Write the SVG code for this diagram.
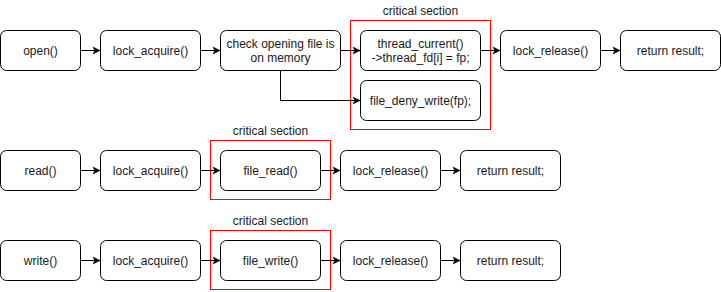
<svg xmlns="http://www.w3.org/2000/svg" width="721" height="292" viewBox="0 0 721 292">
  <style>
    .box { fill: #ffffff; stroke: #000000; stroke-width: 1; }
    .crit { fill: none; stroke: #ff0000; stroke-width: 1; }
    .lbl { font-family: "Liberation Sans", Arial, sans-serif; font-size: 12px; fill: #1a1a1a; text-anchor: middle; }
    .edge { fill: none; stroke: #000000; stroke-width: 1; marker-end: url(#arrow); }
  </style>
  <defs>
    <marker id="arrow" markerWidth="8" markerHeight="8" refX="7" refY="4" orient="auto" markerUnits="userSpaceOnUse">
      <path d="M0,0.5 L7,4 L0,7.5 L1.75,4 Z" fill="#000000" stroke="#000000" stroke-width="0.5"/>
    </marker>
  </defs>
  <rect width="721" height="292" fill="#ffffff"/>

  <!-- critical section frames -->
  <g id="critical-open">
    <rect class="crit" x="350.5" y="20.5" width="140" height="109"/>
    <text class="lbl" x="420.5" y="15">critical section</text>
  </g>
  <g id="critical-read">
    <rect class="crit" x="210.5" y="140.5" width="120" height="59"/>
    <text class="lbl" x="270.5" y="135">critical section</text>
  </g>
  <g id="critical-write">
    <rect class="crit" x="210.5" y="230.5" width="120" height="59"/>
    <text class="lbl" x="270.5" y="225">critical section</text>
  </g>

  <!-- open() flow -->
  <g id="open"><rect class="box" x="0.5" y="30.5" width="80" height="40" rx="6"/><text class="lbl" x="40.5" y="54.5">open()</text></g>
  <g id="open-lock-acquire"><rect class="box" x="100.5" y="30.5" width="100" height="40" rx="6"/><text class="lbl" x="150.5" y="54.5">lock_acquire()</text></g>
  <g id="check-memory"><rect class="box" x="220.5" y="30.5" width="120" height="40" rx="6"/><text class="lbl" x="280.5" y="47.5">check opening file is</text><text class="lbl" x="280.5" y="61.5">on memory</text></g>
  <g id="thread-current"><rect class="box" x="360.5" y="30.5" width="120" height="40" rx="6"/><text class="lbl" x="420.5" y="47.5">thread_current()</text><text class="lbl" x="420.5" y="61.5">-&gt;thread_fd[i] = fp;</text></g>
  <g id="file-deny-write"><rect class="box" x="360.5" y="80.5" width="120" height="40" rx="6"/><text class="lbl" x="420.5" y="104.5">file_deny_write(fp);</text></g>
  <g id="open-lock-release"><rect class="box" x="500.5" y="30.5" width="100" height="40" rx="6"/><text class="lbl" x="550.5" y="54.5">lock_release()</text></g>
  <g id="open-return"><rect class="box" x="620.5" y="30.5" width="100" height="40" rx="6"/><text class="lbl" x="670.5" y="54.5">return result;</text></g>

  <!-- read() flow -->
  <g id="read"><rect class="box" x="0.5" y="150.5" width="80" height="40" rx="6"/><text class="lbl" x="40.5" y="174.5">read()</text></g>
  <g id="read-lock-acquire"><rect class="box" x="100.5" y="150.5" width="100" height="40" rx="6"/><text class="lbl" x="150.5" y="174.5">lock_acquire()</text></g>
  <g id="file-read"><rect class="box" x="220.5" y="150.5" width="100" height="40" rx="6"/><text class="lbl" x="270.5" y="174.5">file_read()</text></g>
  <g id="read-lock-release"><rect class="box" x="340.5" y="150.5" width="100" height="40" rx="6"/><text class="lbl" x="390.5" y="174.5">lock_release()</text></g>
  <g id="read-return"><rect class="box" x="460.5" y="150.5" width="100" height="40" rx="6"/><text class="lbl" x="510.5" y="174.5">return result;</text></g>

  <!-- write() flow -->
  <g id="write"><rect class="box" x="0.5" y="240.5" width="80" height="40" rx="6"/><text class="lbl" x="40.5" y="264.5">write()</text></g>
  <g id="write-lock-acquire"><rect class="box" x="100.5" y="240.5" width="100" height="40" rx="6"/><text class="lbl" x="150.5" y="264.5">lock_acquire()</text></g>
  <g id="file-write"><rect class="box" x="220.5" y="240.5" width="100" height="40" rx="6"/><text class="lbl" x="270.5" y="264.5">file_write()</text></g>
  <g id="write-lock-release"><rect class="box" x="340.5" y="240.5" width="100" height="40" rx="6"/><text class="lbl" x="390.5" y="264.5">lock_release()</text></g>
  <g id="write-return"><rect class="box" x="460.5" y="240.5" width="100" height="40" rx="6"/><text class="lbl" x="510.5" y="264.5">return result;</text></g>

  <!-- connectors -->
  <g id="connectors">
    <path class="edge" d="M80.5,50.5 H100"/>
    <path class="edge" d="M200.5,50.5 H220"/>
    <path class="edge" d="M340.5,50.5 H360"/>
    <path class="edge" d="M280.5,70.5 V100.5 H360"/>
    <path class="edge" d="M480.5,50.5 H500"/>
    <path class="edge" d="M600.5,50.5 H620"/>

    <path class="edge" d="M80.5,170.5 H100"/>
    <path class="edge" d="M200.5,170.5 H220"/>
    <path class="edge" d="M320.5,170.5 H340"/>
    <path class="edge" d="M440.5,170.5 H460"/>

    <path class="edge" d="M80.5,260.5 H100"/>
    <path class="edge" d="M200.5,260.5 H220"/>
    <path class="edge" d="M320.5,260.5 H340"/>
    <path class="edge" d="M440.5,260.5 H460"/>
  </g>
</svg>
